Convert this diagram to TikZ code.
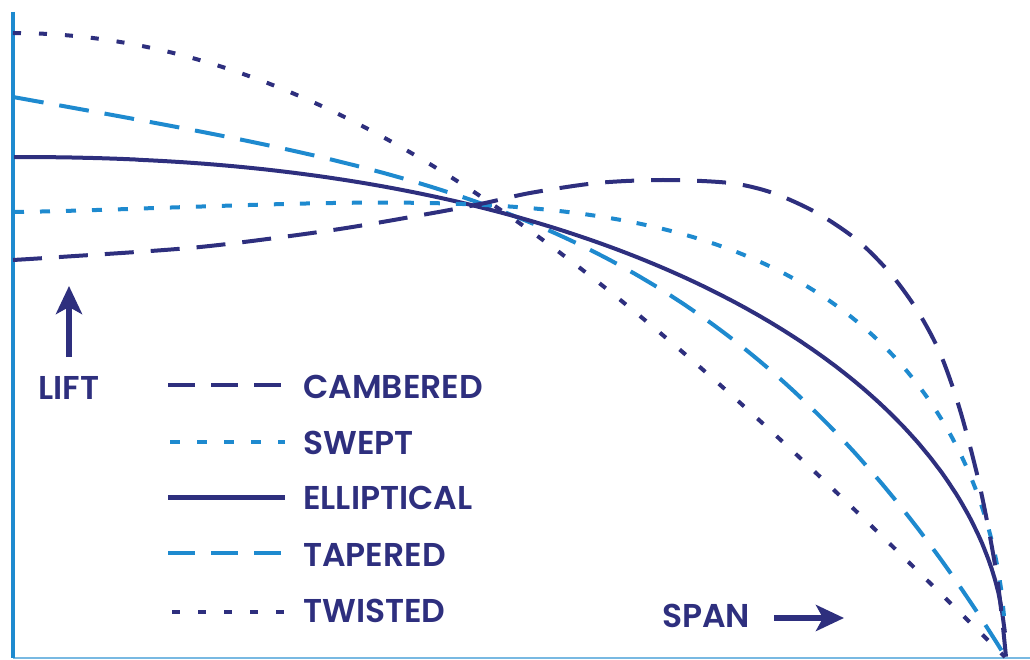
\documentclass[tikz,border=0pt]{standalone}
\usepackage{fontspec}
\setmainfont{Poppins}[UprightFont={* SemiBold}]
\usepackage{xcolor}
\usetikzlibrary{arrows.meta, positioning}

\definecolor{navy}{HTML}{2E2F7E}
\definecolor{skyblue}{HTML}{1E8ACF}

\begin{document}
\begin{tikzpicture}[
  x=1pt, y=-1pt,
  font=\fontsize{33}{35}\selectfont,
  curve/.style={line width=4pt, line cap=butt, line join=round},
  cambered/.style={curve, navy, dash pattern=on 29pt off 17pt},
  swept/.style={curve, skyblue, dash pattern=on 10pt off 16pt},
  elliptical/.style={curve, navy},
  tapered/.style={curve, skyblue, dash pattern=on 30pt off 16pt},
  twisted/.style={curve, navy, dash pattern=on 8pt off 18pt},
  label/.style={anchor=west, text=navy, inner sep=0pt},
  arrow/.style={-{Stealth[length=28pt, width=26pt, inset=7pt]}, line width=6pt, navy}
]
\useasboundingbox (0,0) rectangle (1030,660);

% ================= Axes =================
\coordinate (origin) at (13,658);
\coordinate (ytop) at (13,12);
\coordinate (xend) at (1030,658);
\draw[skyblue!60, line width=2.5pt] (origin) -- (xend);
\draw[skyblue, line width=4pt] (ytop) -- (origin);

% ================= Lift distributions =================
% u = spanwise position 0..1, height measured up from the span axis
\draw[twisted] plot[domain=0:1, samples=200]
  ({13+993*\x}, {658-625*cos(90*\x)});

\draw[tapered] plot[domain=0.001:1, samples=200]
  ({13+993*\x}, {658-561*max(0,1-0.32*\x-0.68*\x^3.8)});

\draw[elliptical] plot[domain=0.001:1, samples=300]
  ({13+993*\x}, {658-501*sqrt(max(0,1-\x^2.2))});

\draw[swept] plot[domain=0.001:1, samples=300]
  ({13+993*\x}, {658-(446+50*\x^1.3)*sqrt(max(0,1-\x^4))});

\draw[cambered] plot[smooth] coordinates {
  (13,260) (60,257) (200,247) (333,230) (433,213) (485,203) (530,193)
  (597,183) (663,180) (730,183) (773,193) (817,213) (857,240) (890,273)
  (917,310) (940,353) (960,410) (980,487) (997,577) (1006,657)};

% ================= Axis labels =================
\node[text=navy, inner sep=0pt] (lift) at (69,388) {LIFT};
\coordinate (lift_tail) at (69,357);
\coordinate (lift_head) at (69,286);
\draw[arrow] (lift_tail) -- (lift_head);

\node[label] (span) at (662,616) {SPAN};
\coordinate (span_tail) at (774,618);
\coordinate (span_head) at (844,618);
\draw[arrow] (span_tail) -- (span_head);

% ================= Legend =================
\node[label] (cambered_lbl) at (303,387) {CAMBERED};
\node[label] (swept_lbl) at (303,443) {SWEPT};
\node[label] (elliptical_lbl) at (303,498) {ELLIPTICAL};
\node[label] (tapered_lbl) at (303,555) {TAPERED};
\node[label] (twisted_lbl) at (303,611) {TWISTED};

\draw[cambered, dash pattern=on 27pt off 16pt] (168,385) -- (285,385);
\draw[swept, dash pattern=on 10pt off 17pt] (170,442) -- (285,442);
\draw[elliptical, line width=5pt] (168,497) -- (285,497);
\draw[tapered, dash pattern=on 27pt off 16pt] (168,553) -- (285,553);
\draw[twisted, dash pattern=on 8pt off 18pt] (172,612) -- (285,612);

\end{tikzpicture}
\end{document}
